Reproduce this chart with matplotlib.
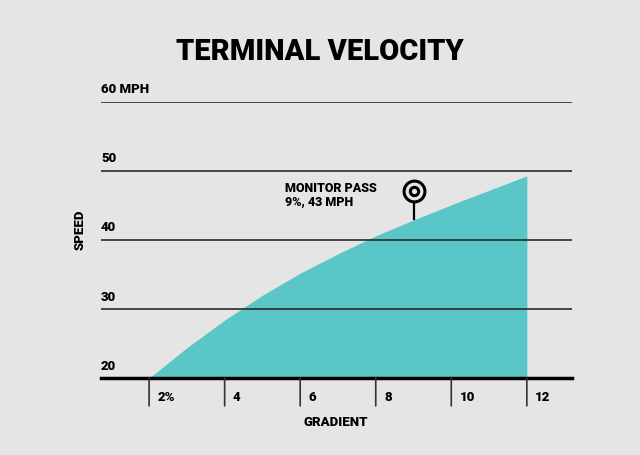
import numpy as np
import matplotlib
matplotlib.use("Agg")
import matplotlib.pyplot as plt

plt.rcParams["font.family"] = ["Roboto", "DejaVu Sans"]

# gradient (%) vs speed (mph)
gradient = [2, 3, 4, 5, 6, 7, 8, 9, 10, 11, 12]
speed = [20, 24.4, 28.4, 32.0, 35.2, 38.0, 40.6, 42.9, 45.1, 47.2, 49.3]
xticks = [2, 4, 6, 8, 10, 12]
xtick_labels = ["2%", "4", "6", "8", "10", "12"]
yticks = [20, 30, 40, 50, 60]
ytick_labels = ["20", "30", "40", "50", "60 MPH"]
marker_x, marker_y = 9, 43
marker_text = "MONITOR PASS\n9%, 43 MPH"

bg = "#e5e5e5"
fill = "#5ac6c8"

fig = plt.figure(figsize=(6.4, 4.55), dpi=100, facecolor=bg)
ax = fig.add_axes([0.158, 0.169, 0.736, 0.607])
ax.set_facecolor(bg)

ax.fill_between(gradient, 20, speed, color=fill, lw=0, zorder=1)

ax.set_xlim(0.73, 13.2)
ax.set_ylim(20, 60)

# horizontal gridlines and labels
for y, lab in zip(yticks, ytick_labels):
    if y == 20:
        ax.axhline(y, color="black", lw=2.5, zorder=3, clip_on=False)
    else:
        ax.axhline(y, color="#2a2a2a", lw=1.2, zorder=2)
    ax.annotate(lab, (0, y), xycoords=("axes fraction", "data"),
                xytext=(0, 4), textcoords="offset points",
                fontsize=9.5, fontweight="black", ha="left", va="bottom")

# custom ticks below the baseline
for x, lab in zip(xticks, xtick_labels):
    ax.annotate("", (x, 20), xytext=(0, -20), textcoords="offset points",
                xycoords="data",
                arrowprops=dict(arrowstyle="-", color="#333333", lw=1.2,
                                shrinkA=0, shrinkB=0),
                annotation_clip=False)
    ax.annotate(lab, (x, 20), xytext=(6, -14), textcoords="offset points",
                fontsize=9.5, fontweight="black", ha="left", va="center",
                annotation_clip=False)

# monitor pass marker
ax.plot([marker_x, marker_x], [marker_y, 46.0], color="black", lw=1.6, zorder=4)
ax.plot(marker_x, 47.1, "o", ms=15, mfc=bg, mec="black", mew=2.2, zorder=5)
ax.plot(marker_x, 47.1, "o", ms=6, mfc=bg, mec="black", mew=2.2, zorder=6)
ax.text(5.6, 48.4, marker_text, fontsize=9, fontweight="black",
        ha="left", va="top", linespacing=1.05)

for s in ax.spines.values():
    s.set_visible(False)
ax.set_xticks([])
ax.set_yticks([])

fig.text(0.5, 0.886, "TERMINAL VELOCITY", fontsize=21, fontweight="black",
         ha="center", va="center")
fig.text(0.525, 0.072, "GRADIENT", fontsize=9.5, fontweight="black",
         ha="center", va="center")
fig.text(0.125, 0.495, "SPEED", fontsize=9.5, fontweight="black",
         ha="center", va="center", rotation=90)

fig.savefig("out.png", dpi=100, facecolor=bg)
